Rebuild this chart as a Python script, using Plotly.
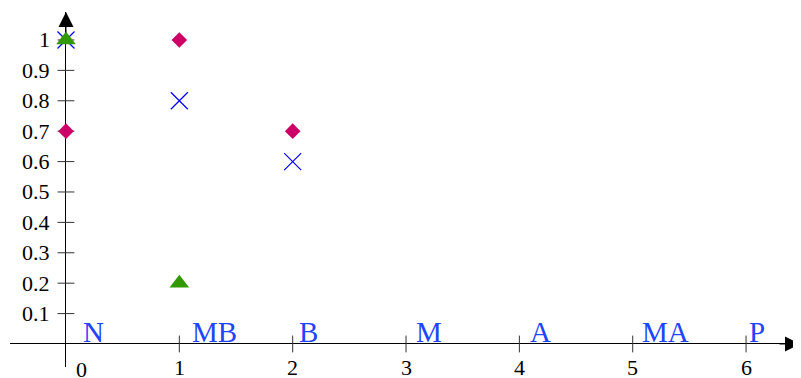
import plotly.graph_objects as go

# data points
diamond_x = [0, 1, 2]
diamond_y = [0.7, 1.0, 0.7]
cross_x = [0, 1, 2]
cross_y = [1.0, 0.8, 0.6]
tri_x = [0, 1]
tri_y = [1.0, 0.2]

# category labels along the x axis
cat_labels = ["N", "MB", "B", "M", "A", "MA", "P"]
cat_x = [0.13, 1.09, 2.04, 3.07, 4.08, 5.06, 6.01]

x_ticks = [0, 1, 2, 3, 4, 5, 6]
x_ticktext = ["0", "1", "2", "3", "4", "5", "6"]
y_ticks = [0.1, 0.2, 0.3, 0.4, 0.5, 0.6, 0.7, 0.8, 0.9, 1.0]
y_ticktext = ["0.1", "0.2", "0.3", "0.4", "0.5", "0.6", "0.7", "0.8", "0.9", "1"]

xmin, xmax = -0.494, 6.476
ymin, ymax = -0.0757, 1.092

serif = "Liberation Serif"
axis_col = "#333333"

fig = go.Figure()

# tick marks crossing the axes
fig.add_trace(go.Scatter(x=x_ticks[1:], y=[0] * (len(x_ticks) - 1), mode="markers",
                         marker=dict(symbol="line-ns-open", size=12, color=axis_col,
                                     line=dict(color=axis_col, width=1)),
                         hoverinfo="skip", showlegend=False))
fig.add_trace(go.Scatter(x=[0] * len(y_ticks), y=y_ticks, mode="markers",
                         marker=dict(symbol="line-ew-open", size=12, color=axis_col,
                                     line=dict(color=axis_col, width=1)),
                         hoverinfo="skip", showlegend=False))

fig.add_trace(go.Scatter(x=diamond_x, y=diamond_y, mode="markers", cliponaxis=False,
                         marker=dict(symbol="diamond", size=12, color="#cc0066"), showlegend=False))
fig.add_trace(go.Scatter(x=cross_x, y=cross_y, mode="markers", cliponaxis=False,
                         marker=dict(symbol="x-thin-open", size=17, color="#0000ff",
                                     line=dict(color="#0000ff", width=1.2)),
                         showlegend=False))
fig.add_trace(go.Scatter(x=tri_x, y=tri_y, mode="markers", cliponaxis=False,
                         marker=dict(symbol="triangle-up", size=17, color="#339900"), showlegend=False))

annotations = []
for xv, t in zip(x_ticks, x_ticktext):
    annotations.append(dict(x=xv, y=0, xref="x", yref="y", text=t, showarrow=False,
                            xanchor="center", yanchor="middle",
                            xshift=16 if xv == 0 else 0, yshift=-26 if xv == 0 else -24,
                            font=dict(family=serif, size=22, color="black")))
for yv, t in zip(y_ticks, y_ticktext):
    annotations.append(dict(x=0, y=yv, xref="x", yref="y", text=t, showarrow=False,
                            xanchor="right", yanchor="middle", xshift=-14,
                            font=dict(family=serif, size=22, color="black")))
for xv, t in zip(cat_x, cat_labels):
    annotations.append(dict(x=xv, y=0, xref="x", yref="y", text=t, showarrow=False,
                            xanchor="left", yanchor="middle", yshift=12,
                            font=dict(family=serif, size=29, color="#1f45ff")))

# arrow heads on the axes
annotations.append(dict(x=0, y=ymax, xref="x", yref="y", text="", showarrow=True,
                        ax=0, ay=22, arrowhead=2, arrowsize=3, arrowwidth=1, arrowcolor="black"))
annotations.append(dict(x=xmax, y=0, xref="x", yref="y", text="", showarrow=True,
                        ax=-22, ay=0, arrowhead=2, arrowsize=3, arrowwidth=1, arrowcolor="black"))

# page body keeps its default 8px margin, so the figure is 8px smaller
fig.update_layout(
    width=793, height=370,
    margin=dict(l=2, r=1, t=4, b=11),
    paper_bgcolor="white", plot_bgcolor="white",
    annotations=annotations,
    xaxis=dict(range=[xmin, xmax], showgrid=False, showticklabels=False, ticks="",
               zeroline=True, zerolinecolor="black", zerolinewidth=1, fixedrange=True),
    yaxis=dict(range=[ymin, ymax], showgrid=False, showticklabels=False, ticks="",
               zeroline=True, zerolinecolor="black", zerolinewidth=1, fixedrange=True),
)

fig.write_html("out.html")
